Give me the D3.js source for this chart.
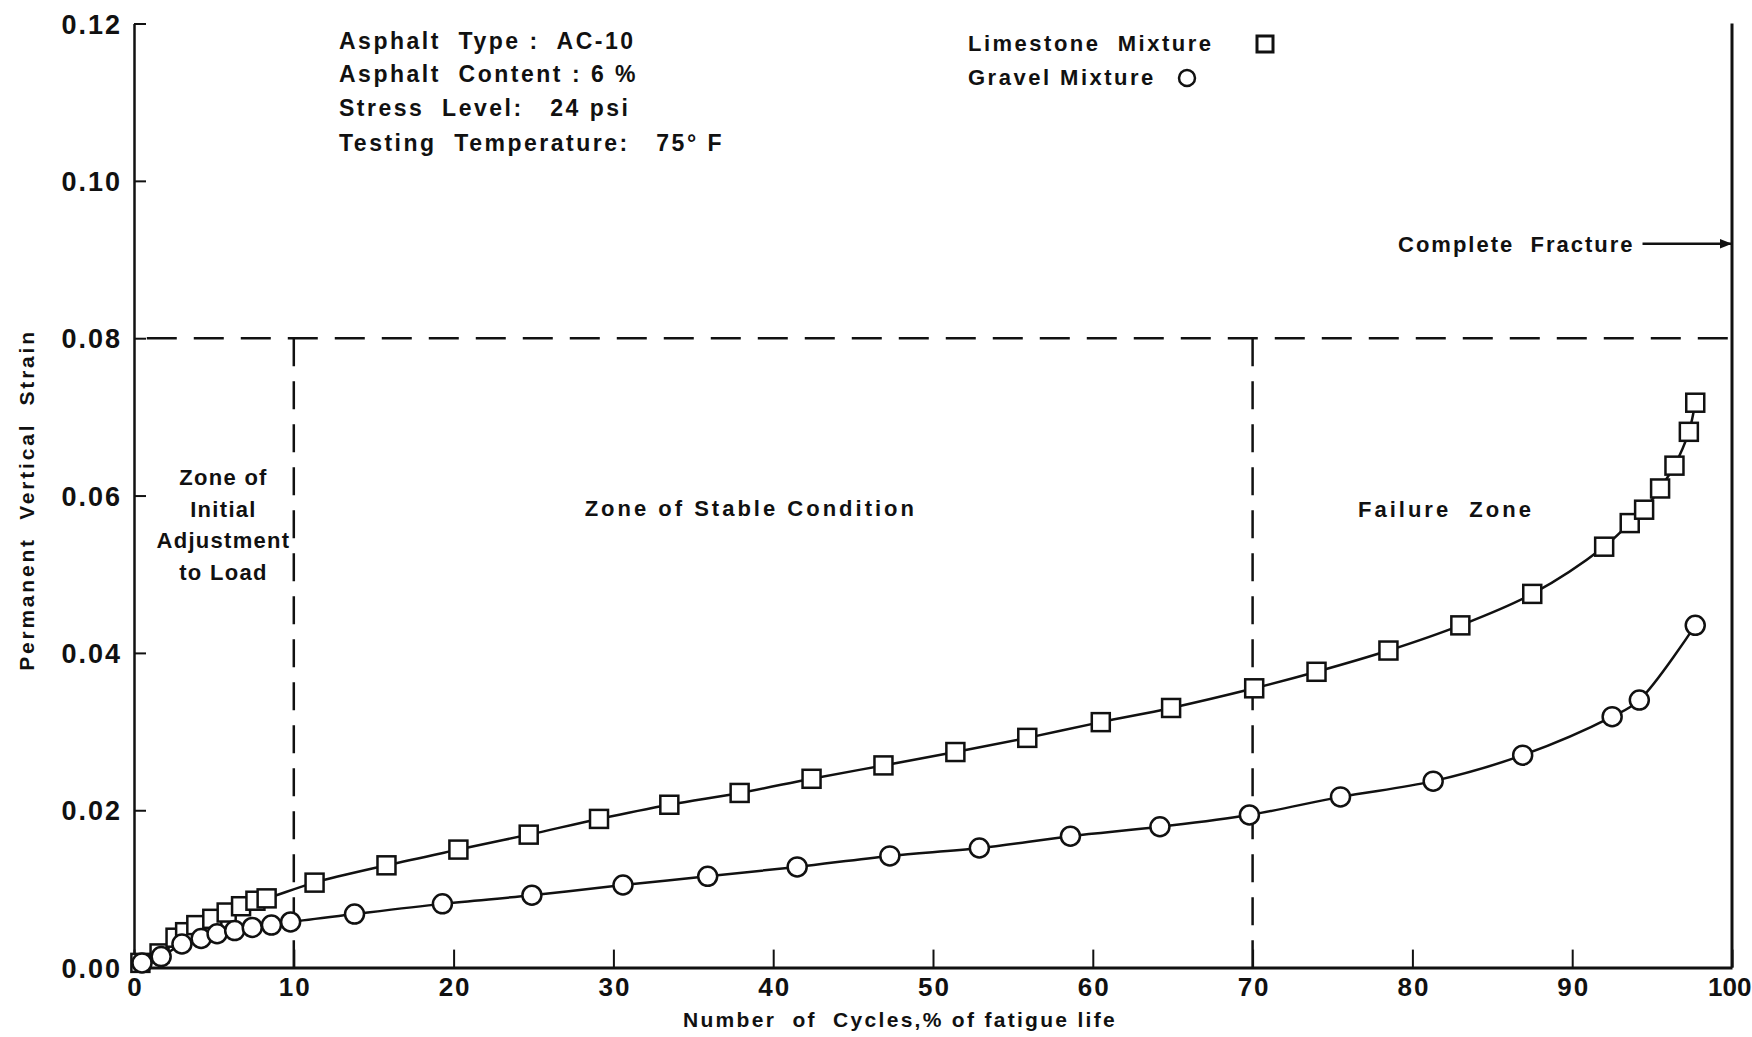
<!DOCTYPE html>
<html>
<head>
<meta charset="utf-8">
<script src="https://cdn.jsdelivr.net/npm/d3@7"></script>
<style>
  html, body { margin: 0; padding: 0; background: #fff; }
  svg { display: block; }
  text { font-family: "Liberation Sans", "DejaVu Sans", sans-serif; font-weight: bold; fill: #111; white-space: pre; }
</style>
</head>
<body>
<svg id="chart" width="1752" height="1037"></svg>
<script>
// ---- data ----
const limestoneX = [0.4, 1.6, 2.6, 3.2, 3.9, 4.9, 5.8, 6.7, 7.6, 8.3, 11.3, 15.8, 20.3, 24.7, 29.1, 33.5, 37.9, 42.4, 46.9, 51.4, 55.9, 60.5, 64.9, 70.1, 74.0, 78.5, 83.0, 87.5, 92.0, 93.6, 94.5, 95.5, 96.4, 97.3, 97.7];
const limestoneY = [0.0006, 0.0018, 0.0038, 0.0045, 0.0054, 0.0062, 0.0070, 0.0078, 0.0085, 0.0088, 0.0108, 0.0130, 0.0150, 0.0169, 0.0189, 0.0207, 0.0222, 0.0240, 0.0257, 0.0274, 0.0292, 0.0312, 0.0330, 0.0355, 0.0376, 0.0403, 0.0435, 0.0475, 0.0535, 0.0565, 0.0582, 0.0609, 0.0638, 0.0681, 0.0718];
const gravelX = [0.5, 1.7, 3.0, 4.2, 5.2, 6.3, 7.4, 8.6, 9.8, 13.8, 19.3, 24.9, 30.6, 35.9, 41.5, 47.3, 52.9, 58.6, 64.2, 69.8, 75.5, 81.3, 86.9, 92.5, 94.2, 97.7];
const gravelY = [0.0006, 0.0014, 0.0030, 0.0037, 0.0043, 0.0047, 0.0051, 0.0054, 0.0058, 0.0068, 0.0081, 0.0092, 0.0105, 0.0116, 0.0128, 0.0142, 0.0152, 0.0167, 0.0179, 0.0194, 0.0217, 0.0237, 0.0270, 0.0319, 0.0340, 0.0435];
const xTicks = [0, 10, 20, 30, 40, 50, 60, 70, 80, 90, 100];
const yTicks = [0.00, 0.02, 0.04, 0.06, 0.08, 0.10, 0.12];
const zoneBounds = [10, 70];
const limitStrain = 0.08;
const fractureStrain = 0.092;
const infoLines = ["Asphalt  Type :  AC-10", "Asphalt  Content : 6 %", "Stress  Level:   24 psi", "Testing  Temperature:   75° F"];
const legendLabels = ["Limestone  Mixture", "Gravel Mixture"];
const zone1Lines = ["Zone of", "Initial", "Adjustment", "to Load"];
const zone2Label = "Zone of Stable Condition";
const zone3Label = "Failure  Zone";
const fractureLabel = "Complete  Fracture";
const xTitle = "Number  of  Cycles,% of fatigue life";
const yTitle = "Permanent  Vertical  Strain";

// ---- layout ----
const svg = d3.select("#chart");
const x = d3.scaleLinear().domain([0, 100]).range([134, 1732]);
const y = d3.scaleLinear().domain([0, 0.12]).range([967.6, 23.5]);
const ink = "#111";

// axes
const yAxis = d3.axisLeft(y).tickValues(yTicks).tickFormat(d3.format(".2f"))
  .tickSizeInner(-12).tickSizeOuter(0).tickPadding(12);
const gy = svg.append("g").attr("transform", `translate(${x(0)},0)`).call(yAxis);
gy.select(".domain").attr("stroke", ink).attr("stroke-width", 2.5);
gy.selectAll(".tick line").attr("stroke", ink).attr("stroke-width", 2);
gy.selectAll(".tick text").style("font-size", "27px").style("letter-spacing", "2px").attr("fill", ink).attr("dy", "0.36em");

const xAxis = d3.axisBottom(x).tickValues(xTicks).tickFormat(d3.format("d"))
  .tickSizeInner(-18).tickSizeOuter(0).tickPadding(10);
const gx = svg.append("g").attr("transform", `translate(0,${y(0)})`).call(xAxis);
gx.select(".domain").attr("stroke", ink).attr("stroke-width", 3);
gx.selectAll(".tick line").attr("stroke", ink).attr("stroke-width", 2);
gx.selectAll(".tick text").style("font-size", "26px").style("letter-spacing", "2px").attr("dx", "1px").attr("fill", ink);
// keep the last label inside the picture
gx.selectAll(".tick text").filter(d => d === 100)
  .style("letter-spacing", "0px").attr("text-anchor", "end").attr("dx", "19px");

// right boundary (complete fracture)
svg.append("line").attr("x1", x(100)).attr("x2", x(100)).attr("y1", y(0)).attr("y2", y(0.12))
  .attr("stroke", ink).attr("stroke-width", 3);

// dashed zone lines
svg.append("line").attr("x1", x(0.8)).attr("x2", x(100)).attr("y1", y(limitStrain)).attr("y2", y(limitStrain))
  .attr("stroke", ink).attr("stroke-width", 2.5).attr("stroke-dasharray", "30 17");
zoneBounds.forEach(b => {
  svg.append("line").attr("x1", x(b)).attr("x2", x(b)).attr("y1", y(limitStrain)).attr("y2", y(0))
    .attr("stroke", ink).attr("stroke-width", 2.5).attr("stroke-dasharray", "28 15");
});

// curves
const limestone = limestoneX.map((v, i) => [v, limestoneY[i]]);
const gravel = gravelX.map((v, i) => [v, gravelY[i]]);
const line = d3.line().x(d => x(d[0])).y(d => y(d[1])).curve(d3.curveCatmullRom.alpha(0.5));
svg.append("path").datum([[0, 0]].concat(limestone)).attr("d", line)
  .attr("fill", "none").attr("stroke", ink).attr("stroke-width", 2.5);
svg.append("path").datum([[0, 0]].concat(gravel)).attr("d", line)
  .attr("fill", "none").attr("stroke", ink).attr("stroke-width", 2.5);

// markers
const sq = 18;
svg.append("g").selectAll("rect").data(limestone).join("rect")
  .attr("x", d => x(d[0]) - sq / 2).attr("y", d => y(d[1]) - sq / 2)
  .attr("width", sq).attr("height", sq)
  .attr("fill", "#fff").attr("stroke", ink).attr("stroke-width", 2.5);
svg.append("g").selectAll("circle").data(gravel).join("circle")
  .attr("cx", d => x(d[0])).attr("cy", d => y(d[1])).attr("r", 9.5)
  .attr("fill", "#fff").attr("stroke", ink).attr("stroke-width", 2.5);

// info text
svg.append("g").selectAll("text").data(infoLines).join("text")
  .attr("x", 339).attr("y", (d, i) => [49, 82, 116, 151][i])
  .style("font-size", "23px").style("letter-spacing", "2.5px").text(d => d);

// legend
svg.append("text").attr("x", 968).attr("y", 51).style("font-size", "22px").style("letter-spacing", "2.5px").text(legendLabels[0]);
svg.append("text").attr("x", 968).attr("y", 85).style("font-size", "22px").style("letter-spacing", "2.5px").text(legendLabels[1]);
svg.append("rect").attr("x", 1257).attr("y", 36).attr("width", 16).attr("height", 16)
  .attr("fill", "#fff").attr("stroke", ink).attr("stroke-width", 3);
svg.append("circle").attr("cx", 1187).attr("cy", 78).attr("r", 8)
  .attr("fill", "#fff").attr("stroke", ink).attr("stroke-width", 2.5);

// complete fracture arrow
const defs = svg.append("defs");
defs.append("marker").attr("id", "arrow").attr("viewBox", "0 0 10 10").attr("refX", 10).attr("refY", 5)
  .attr("markerWidth", 5).attr("markerHeight", 5).attr("orient", "auto")
  .append("path").attr("d", "M0,1 L10,5 L0,9 Z").attr("fill", ink);
svg.append("line").attr("x1", x(94.4)).attr("x2", x(100)).attr("y1", y(fractureStrain)).attr("y2", y(fractureStrain))
  .attr("stroke", ink).attr("stroke-width", 2.5).attr("marker-end", "url(#arrow)");
svg.append("text").attr("x", x(93.9)).attr("y", y(fractureStrain) + 8).attr("text-anchor", "end")
  .style("font-size", "22px").style("letter-spacing", "2px").text(fractureLabel);

// zone labels
svg.append("g").selectAll("text").data(zone1Lines).join("text")
  .attr("x", x(5.6)).attr("y", (d, i) => 485 + i * 31.5).attr("text-anchor", "middle")
  .style("font-size", "22px").style("letter-spacing", "1.3px").text(d => d);
svg.append("text").attr("x", x(38.6)).attr("y", 516).attr("text-anchor", "middle")
  .style("font-size", "22px").style("letter-spacing", "3px").text(zone2Label);
svg.append("text").attr("x", x(82.1)).attr("y", 517).attr("text-anchor", "middle")
  .style("font-size", "22px").style("letter-spacing", "3px").text(zone3Label);

// axis titles
svg.append("text").attr("x", 900).attr("y", 1027).attr("text-anchor", "middle")
  .style("font-size", "21px").style("letter-spacing", "2.3px").text(xTitle);
svg.append("text").attr("transform", "translate(34,500) rotate(-90)").attr("text-anchor", "middle")
  .style("font-size", "21px").style("letter-spacing", "2.8px").text(yTitle);
</script>
</body>
</html>
